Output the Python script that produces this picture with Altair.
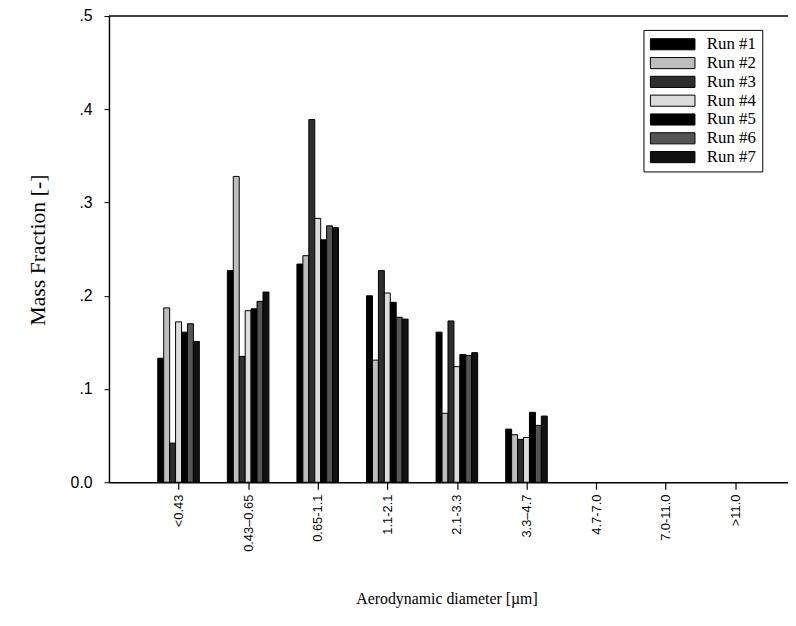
import json
import altair as alt
import pandas as pd

categories = ["<0.43", "0.43\u20130.65", "0.65-1.1", "1.1-2.1", "2.1-3.3",
              "3.3\u20134.7", "4.7-7.0", "7.0-11.0", ">11.0"]
runs = ["Run #1", "Run #2", "Run #3", "Run #4", "Run #5", "Run #6", "Run #7"]

run1 = [0.133, 0.227, 0.234, 0.200, 0.161, 0.057, 0.0, 0.0, 0.0]
run2 = [0.187, 0.328, 0.243, 0.131, 0.074, 0.051, 0.0, 0.0, 0.0]
run3 = [0.042, 0.135, 0.389, 0.227, 0.173, 0.046, 0.0, 0.0, 0.0]
run4 = [0.172, 0.184, 0.283, 0.203, 0.124, 0.048, 0.0, 0.0, 0.0]
run5 = [0.161, 0.186, 0.260, 0.193, 0.137, 0.075, 0.0, 0.0, 0.0]
run6 = [0.170, 0.194, 0.275, 0.177, 0.136, 0.061, 0.0, 0.0, 0.0]
run7 = [0.151, 0.204, 0.273, 0.175, 0.139, 0.071, 0.0, 0.0, 0.0]
series = [run1, run2, run3, run4, run5, run6, run7]

fills = ["#000000", "#bdbdbd", "#2e2e2e", "#dcdcdc", "#000000", "#555555", "#111111"]

rows = []
for r, (name, vals) in enumerate(zip(runs, series)):
    for i, (c, v) in enumerate(zip(categories, vals)):
        rows.append({"run": name, "ri": r, "ci": i + 1, "cat": c, "value": v})
df = pd.DataFrame(rows)

step_px = 70.3
bar_w = 6.0 / step_px
x_max = 686 / step_px

label_expr = json.dumps(categories, ensure_ascii=False) + "[datum.value - 1]"

bars = alt.Chart(df).transform_filter("datum.value > 0").transform_calculate(
    x0=f"datum.ci + (datum.ri - 3.5) * {bar_w}",
    x1=f"datum.ci + (datum.ri - 2.5) * {bar_w}",
    base="0",
).mark_rect(stroke="black", strokeWidth=1).encode(
    x=alt.X("x0:Q",
            scale=alt.Scale(domain=[0, x_max], nice=False, zero=False),
            axis=alt.Axis(values=list(range(1, 10)), labelExpr=label_expr,
                          title="Aerodynamic diameter [\u00b5m]",
                          labelAngle=270, labelFont="Liberation Sans", labelFontSize=13,
                          labelColor="black", labelPadding=5,
                          tickSize=7, tickColor="black", domainColor="black",
                          domainWidth=1.5, tickWidth=1.2, grid=False,
                          titleFont="Liberation Serif", titleFontSize=16,
                          titleFontWeight="normal", titleColor="black",
                          titleX=341, titleY=117, titleAnchor="middle",
                          titleBaseline="middle")),
    x2="x1:Q",
    y=alt.Y("value:Q",
            scale=alt.Scale(domain=[0, 0.5], nice=False),
            axis=alt.Axis(values=[0, 0.1, 0.2, 0.3, 0.4, 0.5],
                          labelExpr="datum.value == 0 ? '0.0' : replace(format(datum.value, '.1f'), '0.', '.')",
                          title="Mass Fraction [-]",
                          labelFont="Liberation Sans", labelFontSize=16, labelColor="black",
                          labelPadding=12, tickSize=5, tickColor="black",
                          domainColor="black", domainWidth=1.5, grid=False,
                          titleFont="Liberation Serif", titleFontSize=22,
                          titleFontWeight="normal", titleColor="black",
                          titleX=-72, titleY=236, titleAngle=270,
                          titleAnchor="middle", titleBaseline="middle")),
    y2="base:Q",
    color=alt.Color("run:N",
                    scale=alt.Scale(domain=runs, range=fills),
                    legend=alt.Legend(title=None, orient="none", legendX=540, legendY=14,
                                      symbolType="M-3,-0.75H3V0.75H-3Z", symbolSize=225,
                                      symbolOffset=15, labelOffset=26,
                                      symbolStrokeColor="black", symbolStrokeWidth=1,
                                      labelFont="Liberation Serif", labelFontSize=17,
                                      labelColor="black",
                                      rowPadding=1, padding=6,
                                      strokeColor="black", fillColor="white")),
)

top_line = alt.Chart(pd.DataFrame({"v": [0.5]})).mark_rule(color="black", strokeWidth=1.5).encode(
    y=alt.Y("v:Q", scale=alt.Scale(domain=[0, 0.5], nice=False))
)

chart = alt.layer(bars, top_line).properties(
    width=686, height=471,
    autosize=alt.AutoSizeParams(type="none"),
    padding={"left": 102, "top": 5, "right": 0, "bottom": 134},
    background="white",
).configure_view(stroke=None)

chart.save("out.html", embed_options={"renderer": "svg", "actions": False})
